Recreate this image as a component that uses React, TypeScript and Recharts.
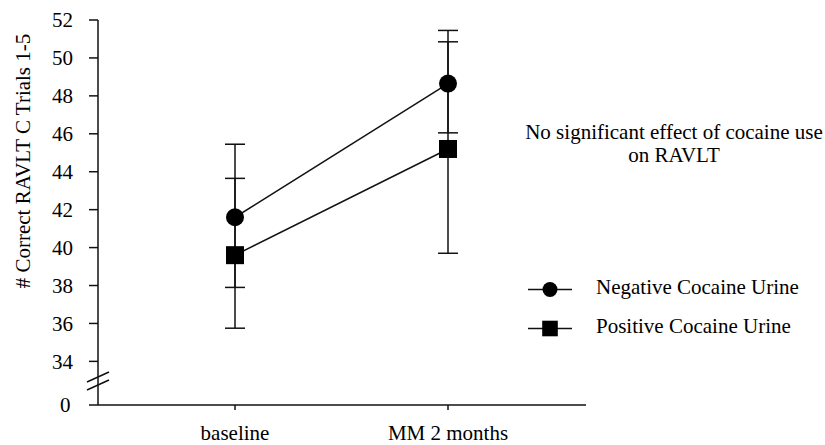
import React from 'react';
import { LineChart, Line, XAxis, YAxis, ErrorBar, Legend } from 'recharts';

// ---- data ----
const categories = ['baseline', 'MM 2 months'];
const negativeMeans = [41.6, 48.65];
const negativeErr = [[3.7, 3.85], [2.6, 2.8]]; // [lower, upper]
const positiveMeans = [39.6, 45.2];
const positiveErr = [[3.85, 4.05], [5.5, 5.65]];

// axis floor (shown as "0" below the axis break)
const axisFloor = 31.7;
const yTicks = [axisFloor, 34, 36, 38, 40, 42, 44, 46, 48, 50, 52];
const yTickLabels = ['0', '34', '36', '38', '40', '42', '44', '46', '48', '50', '52'];

const seriesNames = ['Negative Cocaine Urine', 'Positive Cocaine Urine'];
const yTitle = '# Correct RAVLT C Trials 1-5';
const noteLines = ['No significant effect of cocaine use', 'on RAVLT'];

const data = categories.map((c, i) => ({
  name: c,
  neg: negativeMeans[i],
  negErr: negativeErr[i],
  pos: positiveMeans[i],
  posErr: positiveErr[i],
}));

const FONT = '"Liberation Serif", "Times New Roman", serif';
const INK = '#111';
const Y_TICK_SIZE = 9;
const Y_TICK_MARGIN = 16;

const YTick = (props: any) => {
  const { x, y, payload } = props;
  const isFloor = payload.value === axisFloor;
  const axisX = x + Y_TICK_SIZE + Y_TICK_MARGIN;
  return (
    <g>
      <text
        x={x}
        y={y}
        dx={isFloor ? -2.5 : 0}
        dy="0.355em"
        textAnchor="end"
        fontFamily={FONT}
        fontSize={21}
        fill="#000"
      >
        {yTickLabels[yTicks.indexOf(payload.value)] ?? String(payload.value)}
      </text>
      {isFloor && (
        <g stroke={INK} strokeWidth={1.5}>
          <line x1={axisX - 11} y1={y - 23} x2={axisX + 11} y2={y - 33} />
          <line x1={axisX - 11} y1={y - 15} x2={axisX + 11} y2={y - 25} />
        </g>
      )}
    </g>
  );
};

const circleDot = (props: any) => {
  const { cx, cy, index } = props;
  return <circle key={`c-${index}`} cx={cx} cy={cy} r={9} fill="#000" />;
};

const squareDot = (props: any) => {
  const { cx, cy, index } = props;
  return <rect key={`s-${index}`} x={cx - 9} y={cy - 9} width={18} height={18} fill="#000" />;
};

const YTitle = (props: any) => {
  const vb = props.viewBox || { x: 0, y: 20 };
  const cx = vb.x + 30;
  const cy = vb.y + 141;
  return (
    <text
      x={cx}
      y={cy}
      transform={`rotate(-90 ${cx} ${cy})`}
      textAnchor="middle"
      fontFamily={FONT}
      fontSize={21}
      fill="#000"
    >
      {yTitle}
    </text>
  );
};

const renderLegend = () => {
  const textStyle: React.CSSProperties = {
    position: 'absolute',
    left: 96,
    fontFamily: FONT,
    fontSize: 21,
    lineHeight: '23px',
    whiteSpace: 'nowrap',
    color: '#000',
  };
  return (
    <div style={{ position: 'relative', width: 325, height: 260 }}>
      <div
        style={{
          position: 'absolute',
          left: -1,
          top: 21.4,
          width: 350,
          textAlign: 'center',
          fontFamily: FONT,
          fontSize: 21,
          lineHeight: '23px',
          whiteSpace: 'nowrap',
          color: '#000',
        }}
      >
        {noteLines.map((l) => (
          <div key={l}>{l}</div>
        ))}
      </div>
      <svg style={{ position: 'absolute', left: 28, top: 177.8 }} width={44} height={23}>
        <line x1={0} y1={11.5} x2={44} y2={11.5} stroke={INK} strokeWidth={1.5} />
        <circle cx={22} cy={11.5} r={7.5} fill="#000" />
      </svg>
      <div style={{ ...textStyle, top: 176.4 }}>{seriesNames[0]}</div>
      <svg style={{ position: 'absolute', left: 28, top: 216.8 }} width={44} height={23}>
        <line x1={0} y1={11.5} x2={44} y2={11.5} stroke={INK} strokeWidth={1.5} />
        <rect x={14.2} y={3.7} width={15.6} height={15.6} fill="#000" />
      </svg>
      <div style={{ ...textStyle, top: 215.4 }}>{seriesNames[1]}</div>
    </div>
  );
};

export default function App() {
  return (
    <div style={{ position: 'absolute', left: 0, top: 0, width: 825, height: 445, background: '#fff' }}>
      <LineChart
        width={825}
        height={445}
        data={data}
        margin={{ top: 20, right: 239, bottom: 0, left: 0 }}
      >
        <XAxis
          dataKey="name"
          type="category"
          padding={{ left: 137, right: 138 }}
          height={40}
          tickSize={5}
          tickMargin={15}
          stroke={INK}
          strokeWidth={1.5}
          tick={{ fontFamily: FONT, fontSize: 21, fill: '#000' }}
          interval={0}
        />
        <YAxis
          type="number"
          domain={[axisFloor, 52]}
          ticks={yTicks}
          interval={0}
          width={98}
          tickSize={Y_TICK_SIZE}
          tickMargin={Y_TICK_MARGIN}
          stroke={INK}
          strokeWidth={1.5}
          tick={<YTick />}
          allowDataOverflow
          label={{ content: <YTitle /> }}
        />
        <Legend
          layout="vertical"
          align="center"
          verticalAlign="middle"
          content={renderLegend}
          wrapperStyle={{ position: 'absolute', left: 500, top: 100, width: 325, height: 260 }}
        />
        <Line
          dataKey="neg"
          type="linear"
          stroke={INK}
          strokeWidth={1.5}
          dot={circleDot}
          activeDot={false}
          isAnimationActive={false}
          name={seriesNames[0]}
        >
          <ErrorBar dataKey="negErr" width={10} stroke={INK} strokeWidth={1.5} isAnimationActive={false} />
        </Line>
        <Line
          dataKey="pos"
          type="linear"
          stroke={INK}
          strokeWidth={1.5}
          dot={squareDot}
          activeDot={false}
          isAnimationActive={false}
          name={seriesNames[1]}
        >
          <ErrorBar dataKey="posErr" width={10} stroke={INK} strokeWidth={1.5} isAnimationActive={false} />
        </Line>
      </LineChart>
    </div>
  );
}
